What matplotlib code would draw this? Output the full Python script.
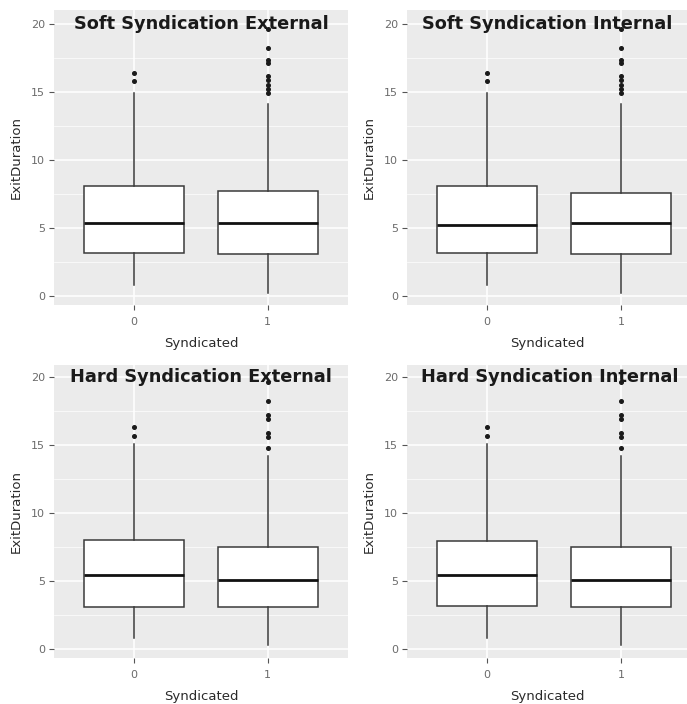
import matplotlib

matplotlib.use("Agg")
import matplotlib.pyplot as plt

# ---- data (ExitDuration by Syndicated = 0 / 1) ----
TITLES = [
    "Soft Syndication External",
    "Soft Syndication Internal",
    "Hard Syndication External",
    "Hard Syndication Internal",
]
CATEGORIES = ["0", "1"]

# per panel: [group0, group1]
whislo = [[0.8, 0.2], [0.8, 0.2], [0.8, 0.3], [0.8, 0.3]]
q1 = [[3.15, 3.1], [3.15, 3.1], [3.1, 3.1], [3.15, 3.1]]
median = [[5.35, 5.35], [5.2, 5.35], [5.45, 5.07], [5.45, 5.07]]
q3 = [[8.1, 7.7], [8.1, 7.55], [8.0, 7.5], [7.95, 7.5]]
whishi = [[14.9, 14.1], [14.9, 14.1], [15.1, 14.2], [15.1, 14.2]]
outliers = [
    [[15.8, 16.4], [14.9, 15.2, 15.5, 15.9, 16.2, 17.1, 17.35, 18.2, 19.6]],
    [[15.8, 16.4], [14.9, 15.2, 15.5, 15.9, 16.2, 17.1, 17.35, 18.2, 19.6]],
    [[15.65, 16.3], [14.8, 15.6, 15.9, 16.9, 17.2, 18.2, 19.6]],
    [[15.65, 16.3], [14.8, 15.6, 15.9, 16.9, 17.2, 18.2, 19.6]],
]

W, H = 687, 704
# axes rectangles in pixels: left, top, right, bottom
PANELS = [(54, 10, 348, 305), (407, 10, 687, 305), (54, 365, 348, 658), (407, 365, 687, 658)]
YLIMS = [(-0.66, 21.03), (-0.66, 21.03), (-0.66, 20.88), (-0.66, 20.88)]
XLIMS = [(-0.6, 1.6), (-0.6, 1.495), (-0.6, 1.6), (-0.6, 1.495)]
TITLE_X = [0.5, 0.45, 0.5, 0.47]

fig = plt.figure(figsize=(W / 100, H / 100), dpi=100)

for i, title in enumerate(TITLES):
    l, t, r, b = PANELS[i]
    ax = fig.add_axes([l / W, 1 - b / H, (r - l) / W, (b - t) / H])
    ax.set_facecolor("#EBEBEB")
    for s in ax.spines.values():
        s.set_visible(False)

    stats = []
    for g in range(2):
        stats.append({
            "whislo": whislo[i][g], "q1": q1[i][g], "med": median[i][g],
            "q3": q3[i][g], "whishi": whishi[i][g], "fliers": outliers[i][g],
        })
    ax.bxp(
        stats, positions=[0, 1], widths=0.75, showcaps=False, patch_artist=True,
        boxprops=dict(facecolor="white", edgecolor="#3a3a3a", linewidth=1.1),
        whiskerprops=dict(color="#3a3a3a", linewidth=1.1),
        medianprops=dict(color="#111111", linewidth=2.0),
        flierprops=dict(marker="o", markersize=2.6, markerfacecolor="#1a1a1a",
                        markeredgecolor="#1a1a1a"),
        zorder=3,
    )

    ax.set_xlim(*XLIMS[i])
    ax.set_ylim(*YLIMS[i])
    ax.set_xticks([0, 1])
    ax.set_xticklabels(CATEGORIES)
    ax.set_yticks([0, 5, 10, 15, 20])
    ax.set_yticks([2.5, 7.5, 12.5, 17.5], minor=True)
    ax.grid(True, which="major", color="white", linewidth=1.1, zorder=0)
    ax.grid(True, which="minor", axis="y", color="white", linewidth=0.5, zorder=0)
    ax.set_axisbelow(True)
    ax.tick_params(axis="both", which="major", length=3.5, width=0.8, color="#555555",
                   labelsize=8, labelcolor="#6b6b6b", pad=3)
    ax.tick_params(axis="x", which="major", pad=5)
    ax.tick_params(axis="y", which="minor", length=0)
    ax.set_xlabel("Syndicated", fontsize=9.5, color="#2a2a2a", labelpad=7)
    ax.set_ylabel("ExitDuration", fontsize=9.5, color="#2a2a2a", labelpad=6)

    ax.text(TITLE_X[i], 20, title, ha="center", va="center", fontsize=12.8,
            fontweight="bold", color="#1a1a1a", zorder=5)

fig.savefig("out.png", dpi=100)
